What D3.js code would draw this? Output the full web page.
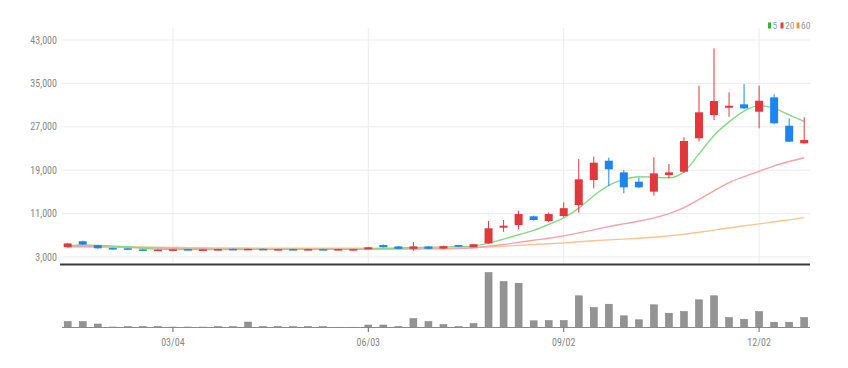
<!DOCTYPE html>
<html>
<head>
<meta charset="utf-8">
<script src="https://cdn.jsdelivr.net/npm/d3@7"></script>
<style>
  body { margin: 0; background: #fff; }
  svg { display: block; font-family: "Liberation Sans Narrow", "Roboto Condensed", "DejaVu Sans Condensed", sans-serif; }
</style>
</head>
<body>
<div id="chart"></div>
<script>
// Weekly candles, 2019
const dates = [
  "2019-01-14","2019-01-21","2019-01-28","2019-02-04","2019-02-11","2019-02-18","2019-02-25","2019-03-04",
  "2019-03-11","2019-03-18","2019-03-25","2019-04-01","2019-04-08","2019-04-15","2019-04-22","2019-04-29",
  "2019-05-06","2019-05-13","2019-05-20","2019-05-27","2019-06-03","2019-06-10","2019-06-17","2019-06-24",
  "2019-07-01","2019-07-08","2019-07-15","2019-07-22","2019-07-29","2019-08-05","2019-08-12","2019-08-19",
  "2019-08-26","2019-09-02","2019-09-09","2019-09-16","2019-09-23","2019-09-30","2019-10-07","2019-10-14",
  "2019-10-21","2019-10-28","2019-11-04","2019-11-11","2019-11-18","2019-11-25","2019-12-02","2019-12-09",
  "2019-12-16","2019-12-23"
];
const openP = [4800,5900,5200,4650,4600,4400,4250,4300,4450,4300,4350,4500,4400,4500,4350,4450,4350,4450,4350,4350,
  4420,5200,4950,4500,4950,4550,5200,4800,5520,8400,8900,10500,9630,10560,12580,17190,20750,18600,16880,15040,
  18110,18720,24880,29170,30520,31140,29780,32430,27200,23950];
const highP = [5600,6000,5250,4700,4650,4450,4400,4450,4500,4450,4500,4550,4550,4550,4500,4500,4500,4500,4500,4500,
  4850,5300,5000,5760,5000,5100,5250,5400,9630,9820,11530,10600,11200,13080,21060,21490,21300,19030,17630,21370,
  20140,25060,34570,41460,33350,34880,34570,33000,28550,28750];
const lowP = [4750,5250,4550,4400,4400,4200,4200,4250,4250,4250,4300,4350,4350,4350,4300,4300,4300,4300,4300,4300,
  4400,4750,4450,4160,4450,4500,4850,4750,5400,7660,8100,9700,9400,10400,11160,15660,16090,14740,15700,14300,
  17500,18500,24300,28250,28860,30300,26720,27500,24200,23900];
const closeP = [5500,5300,4600,4450,4450,4250,4350,4400,4300,4400,4450,4400,4500,4400,4450,4350,4450,4350,4450,4450,
  4790,4800,4500,4950,4500,5000,4900,5350,8290,8770,10920,9820,10920,12000,17320,20380,19160,15840,15840,18420,
  18600,24380,29670,31750,30880,30400,31800,27640,24250,24560];
// volume, thousand shares
const volume = [600,600,350,50,100,100,100,50,50,50,100,100,550,100,100,100,100,100,30,30,
  250,250,100,900,600,300,100,400,5500,4600,4430,670,700,700,3170,2000,2330,1170,770,2270,
  1430,1600,2770,3170,1000,830,1600,530,530,1000];
// moving averages
const ma5 = [5100,5200,5150,5000,4900,4600,4450,4400,4380,4380,4380,4380,4400,4400,4400,4400,4400,4400,4400,4400,
  4450,4550,4650,4750,4800,4850,4900,5050,5550,6300,7100,7900,9000,10200,12000,14300,16200,17300,17800,17700,
  17600,18700,22000,25400,27900,29900,30900,30400,29200,28000];
const ma20 = [4900,4880,4850,4800,4750,4700,4650,4600,4550,4520,4500,4480,4460,4450,4450,4450,4450,4450,4450,4450,
  4450,4460,4470,4480,4490,4500,4550,4700,5000,5300,5700,6100,6450,6900,7450,8000,8600,9100,9600,10200,
  11000,12100,13600,15200,16700,17800,18800,19800,20600,21300];
const ma60 = [5100,5050,5000,4950,4900,4850,4800,4760,4730,4700,4680,4660,4650,4640,4630,4620,4610,4600,4600,4600,
  4600,4600,4600,4600,4600,4600,4650,4750,4850,5000,5150,5300,5450,5600,5800,6000,6150,6300,6450,6650,
  6900,7200,7550,7950,8350,8750,9100,9500,9850,10250];
const priceTicks = [3000, 11000, 19000, 27000, 35000, 43000];
const dateTicks = ["2019-03-04","2019-06-03","2019-09-02","2019-12-02"];
const maNames = ["5", "20", "60"];
const maColors = ["#86d987", "#f4a3ab", "#f9c494"];
const legendColors = ["#2fb52f", "#e8383d", "#f5962a"];

const W = 848, H = 368;
const LEFT = 62, RIGHT = 810;
const UP = "#e2373b", DOWN = "#1f84ee";

const data = dates.map((d, i) => ({
  date: d, open: openP[i], high: highP[i], low: lowP[i], close: closeP[i], vol: volume[i]
}));

const svg = d3.select("#chart").append("svg")
  .attr("width", W).attr("height", H);

const x = d3.scalePoint().domain(dates).range([67.7, 804.2]);
const y = d3.scaleLinear().domain([3000, 43000]).range([257, 40]);
const yv = d3.scaleLinear().domain([0, 5600]).range([327.5, 271.5]);

// horizontal grid
svg.append("g").selectAll("line")
  .data(priceTicks)
  .join("line")
  .attr("x1", LEFT).attr("x2", RIGHT)
  .attr("y1", d => y(d)).attr("y2", d => y(d))
  .attr("stroke", "#ebebeb");

// vertical grid
svg.append("g").selectAll("line")
  .data(dateTicks)
  .join("line")
  .attr("x1", d => x(d)).attr("x2", d => x(d))
  .attr("y1", 28).attr("y2", 263)
  .attr("stroke", "#ebebeb");

// y labels
svg.append("g").selectAll("text")
  .data(priceTicks)
  .join("text")
  .attr("x", 57).attr("y", d => y(d) + 3.5)
  .attr("text-anchor", "end")
  .attr("font-size", 10)
  .attr("fill", "#888")
  .text(d => d3.format(",")(d));

// moving averages
const line = d3.line().x((d, i) => x(dates[i])).y(d => y(d)).curve(d3.curveMonotoneX);
[ma60, ma20, ma5].forEach((arr, k) => {
  svg.append("path")
    .attr("d", line(arr))
    .attr("fill", "none")
    .attr("stroke", maColors[2 - k])
    .attr("stroke-width", 1.4);
});

// candles
const candles = svg.append("g").selectAll("g")
  .data(data)
  .join("g");
candles.append("line")
  .attr("x1", d => x(d.date)).attr("x2", d => x(d.date))
  .attr("y1", d => y(d.high)).attr("y2", d => y(d.low))
  .attr("stroke", d => d.close >= d.open ? UP : DOWN);
candles.append("rect")
  .attr("x", d => x(d.date) - 4)
  .attr("width", 8)
  .attr("y", d => y(Math.max(d.open, d.close)))
  .attr("height", d => Math.max(1.5, Math.abs(y(d.open) - y(d.close))))
  .attr("fill", d => d.close >= d.open ? UP : DOWN);

// separator
svg.append("line")
  .attr("x1", 60).attr("x2", RIGHT)
  .attr("y1", 264.5).attr("y2", 264.5)
  .attr("stroke", "#3a3a3a").attr("stroke-width", 2);

// volume
svg.append("g").selectAll("rect")
  .data(data)
  .join("rect")
  .attr("x", d => x(d.date) - 3.5)
  .attr("width", 7)
  .attr("y", d => yv(d.vol))
  .attr("height", d => yv(0) - yv(d.vol))
  .attr("fill", "#939393")
  .attr("stroke", "#808080")
  .attr("stroke-width", 0.5);

svg.append("line")
  .attr("x1", LEFT).attr("x2", RIGHT)
  .attr("y1", 327.5).attr("y2", 327.5)
  .attr("stroke", "#8a8a8a");

// x ticks + labels
const xt = svg.append("g").selectAll("g")
  .data(dateTicks)
  .join("g")
  .attr("transform", d => `translate(${x(d)},0)`);
xt.append("line")
  .attr("y1", 327.5).attr("y2", 332)
  .attr("stroke", "#666");
xt.append("text")
  .attr("y", 346)
  .attr("text-anchor", "middle")
  .attr("font-size", 10)
  .attr("fill", "#888")
  .text(d => d.slice(5).replace("-", "/"));

// legend
const legendX = [768, 780.5, 796.5];
const lg = svg.append("g").selectAll("g")
  .data(maNames)
  .join("g")
  .attr("transform", (d, i) => `translate(${legendX[i]},22.5)`);
lg.append("rect")
  .attr("width", 3).attr("height", 6)
  .attr("fill", (d, i) => legendColors[i]);
lg.append("text")
  .attr("x", 4.5).attr("y", 6)
  .attr("font-size", 9.5)
  .attr("fill", "#999")
  .text(d => d);
</script>
</body>
</html>
